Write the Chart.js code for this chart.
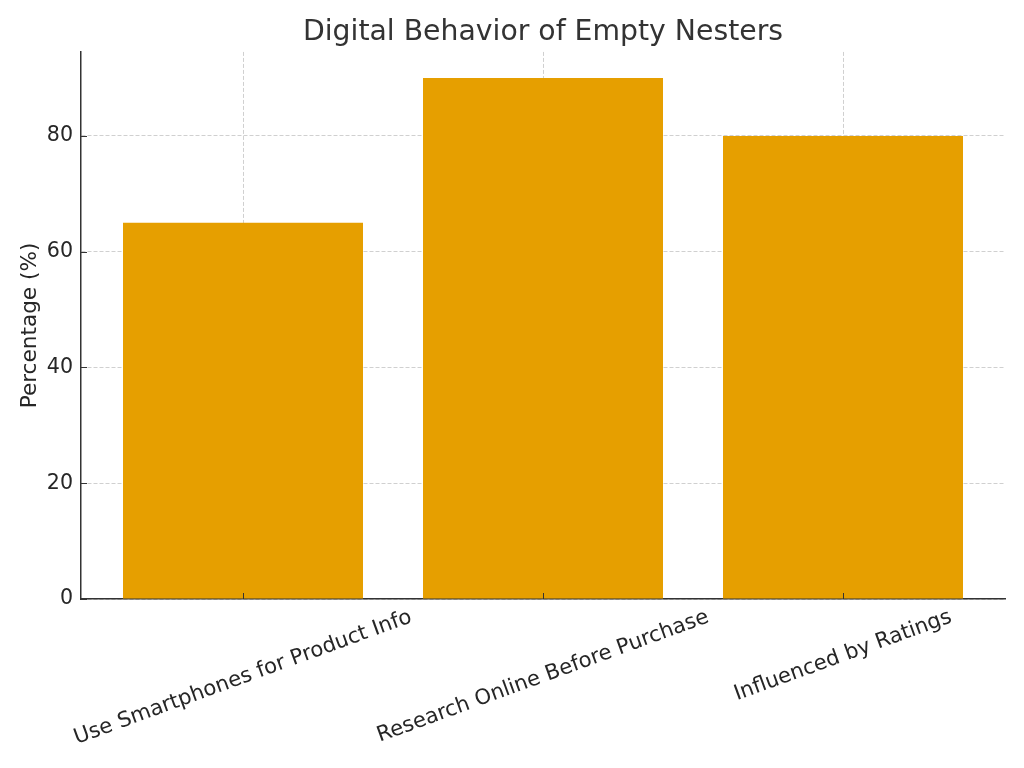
<!DOCTYPE html>
<html>
<head>
<meta charset="utf-8">
<title>Digital Behavior of Empty Nesters</title>
<script src="https://cdn.jsdelivr.net/npm/chart.js@4/dist/chart.umd.min.js"></script>
<style>
    html, body { margin: 0; padding: 0; background: #ffffff; }
    #wrap { width: 1024px; height: 768px; }
</style>
</head>
<body>
<div id="wrap"><canvas id="myBarChart" width="1024" height="768"></canvas></div>
<script>
const categories = ['Use Smartphones for Product Info', 'Research Online Before Purchase', 'Influenced by Ratings'];
const percentages = [65, 90, 80];
const yTicks = [0, 20, 40, 60, 80];

const FONT = "'DejaVu Sans', sans-serif";
const TEXT_COLOR = '#262626';
const GRID_COLOR = 'rgba(200, 200, 200, 0.85)';
const TICK_SIZE = 20.6;
const XLABEL_SIZE = 21.2;
const LABEL_ANGLE = 20 * Math.PI / 180;

// draws the rotated category labels (centred on the tick, like matplotlib) and inward tick marks
const axisDecor = {
    id: 'axisDecor',
    afterDraw(chart) {
        const ctx = chart.ctx;
        const x = chart.scales.x;
        const y = chart.scales.y;
        const area = chart.chartArea;

        ctx.save();
        ctx.strokeStyle = '#333333';
        ctx.lineWidth = 1;
        x.ticks.forEach(t => {
            const px = Math.round(x.getPixelForValue(t.value)) + 0.5;
            ctx.beginPath();
            ctx.moveTo(px, area.bottom);
            ctx.lineTo(px, area.bottom - 6);
            ctx.stroke();
        });
        y.ticks.forEach(t => {
            const py = Math.round(y.getPixelForValue(t.value)) + 0.5;
            ctx.beginPath();
            ctx.moveTo(area.left, py);
            ctx.lineTo(area.left + 6, py);
            ctx.stroke();
        });

        ctx.font = XLABEL_SIZE + 'px ' + FONT;
        ctx.fillStyle = TEXT_COLOR;
        ctx.textAlign = 'center';
        ctx.textBaseline = 'middle';
        const h = XLABEL_SIZE * 1.16;
        categories.forEach((label, i) => {
            const w = ctx.measureText(label).width;
            const boxH = w * Math.sin(LABEL_ANGLE) + h * Math.cos(LABEL_ANGLE);
            const cx = x.getPixelForValue(i);
            const cy = area.bottom + 6 + boxH / 2;
            ctx.save();
            ctx.translate(cx, cy);
            ctx.rotate(-LABEL_ANGLE);
            ctx.fillText(label, 0, 0);
            ctx.restore();
        });
        ctx.restore();
    }
};

const ctx = document.getElementById('myBarChart').getContext('2d');

new Chart(ctx, {
    type: 'bar',
    data: {
        datasets: [{
            data: percentages.map((v, i) => ({ x: i, y: v })),
            backgroundColor: '#E69F00',
            borderWidth: 0,
            categoryPercentage: 1.0,
            barPercentage: 0.8
        }]
    },
    options: {
        responsive: false,
        animation: false,
        layout: { padding: { left: 0, right: 19, top: 0, bottom: 0 } },
        plugins: {
            legend: { display: false },
            tooltip: { enabled: false },
            title: {
                display: true,
                fullSize: false,
                text: 'Digital Behavior of Empty Nesters',
                color: '#333333',
                font: { family: FONT, size: 28.3, weight: 'normal' },
                padding: { top: 16, bottom: 2 }
            }
        },
        scales: {
            x: {
                type: 'linear',
                min: -0.54,
                max: 2.54,
                offset: false,
                z: 1,
                afterBuildTicks: scale => {
                    scale.ticks = categories.map((c, i) => ({ value: i }));
                },
                afterFit: scale => { scale.height = 169; },
                ticks: { display: false },
                grid: { color: GRID_COLOR, lineWidth: 1, drawTicks: false, offset: false },
                border: { display: true, color: '#333333', width: 1.5, dash: [4, 2] }
            },
            y: {
                min: 0,
                max: 94.5,
                z: 1,
                afterBuildTicks: scale => {
                    scale.ticks = yTicks.map(v => ({ value: v }));
                },
                afterFit: scale => { scale.width = 81; },
                ticks: {
                    color: TEXT_COLOR,
                    padding: 8,
                    font: { family: FONT, size: TICK_SIZE }
                },
                grid: { color: GRID_COLOR, lineWidth: 1, drawTicks: false },
                border: { display: true, color: '#333333', width: 1.5, dash: [4, 2] },
                title: {
                    display: true,
                    text: 'Percentage (%)',
                    color: TEXT_COLOR,
                    font: { family: FONT, size: 21.6 },
                    padding: { top: 17, bottom: 0 }
                }
            }
        }
    },
    plugins: [axisDecor]
});
</script>
</body>
</html>
